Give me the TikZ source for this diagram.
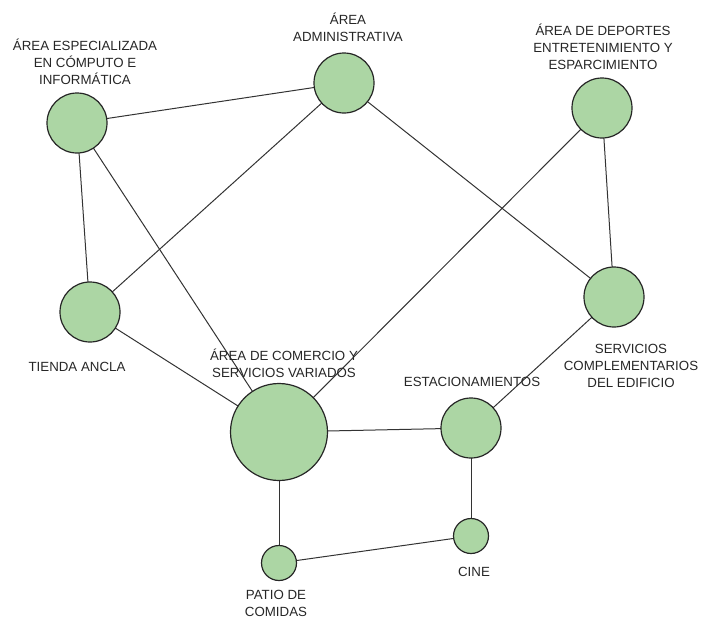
\documentclass[tikz,border=0pt]{standalone}
\usepackage{fontspec}
\setmainfont{Liberation Sans}
\definecolor{placegreen}{RGB}{172,214,164}
\tikzset{
  place/.style={circle, draw=black!85, fill=placegreen, line width=1.2pt, inner sep=0pt, minimum size=60pt},
  small place/.style={place, minimum size=35pt},
  big place/.style={place, minimum size=97pt},
  tag/.style={align=center, text=black!85, font=\fontsize{13.3}{17}\selectfont}
}
\begin{document}
\begin{tikzpicture}[x=1pt,y=-1pt]
  \useasboundingbox (0,0) rectangle (704,619);
  \begin{scope}[-, line width=1pt, black!80]
    \coordinate (esp) at (77,123);
    \coordinate (adm) at (344,83);
    \coordinate (dep) at (602,108);
    \coordinate (tda) at (90,312);
    \coordinate (srv) at (614,297);
    \coordinate (com) at (279,432);
    \coordinate (est) at (471,428);
    \coordinate (cin) at (471,536);
    \coordinate (pat) at (279,563);
    \draw (esp) to (adm);
    \draw (esp) to (tda);
    \draw (esp) to (com);
    \draw (adm) to (tda);
    \draw (adm) to (srv);
    \draw (dep) to (com);
    \draw (dep) to (srv);
    \draw (tda) to (com);
    \draw (com) to (est);
    \draw (srv) to (est);
    \draw (est) to (cin);
    \draw (com) to (pat);
    \draw (pat) to (cin);
  \end{scope}
  \draw
    (esp) node[place] (n0){}
    (adm) node[place] (n1){}
    (dep) node[place] (n2){}
    (tda) node[place] (n3){}
    (srv) node[place] (n4){}
    (com) node[big place] (n5){}
    (est) node[place] (n6){}
    (cin) node[small place] (n7){}
    (pat) node[small place] (n8){};
  \draw
    (85,62) node[tag] (t0){ÁREA ESPECIALIZADA\\EN CÓMPUTO E\\INFORMÁTICA}
    (348,27) node[tag] (t1){ÁREA\\ADMINISTRATIVA}
    (603,47) node[tag] (t2){ÁREA DE DEPORTES\\ENTRETENIMIENTO Y\\ESPARCIMIENTO}
    (77,367) node[tag] (t3){TIENDA ANCLA}
    (631,366) node[tag] (t4){SERVICIOS\\COMPLEMENTARIOS\\DEL EDIFICIO}
    (284,363) node[tag] (t5){ÁREA DE COMERCIO Y\\SERVICIOS VARIADOS}
    (472,382) node[tag] (t6){ESTACIONAMIENTOS}
    (474,572) node[tag] (t7){CINE}
    (276,603) node[tag] (t8){PATIO DE\\COMIDAS};
\end{tikzpicture}
\end{document}
